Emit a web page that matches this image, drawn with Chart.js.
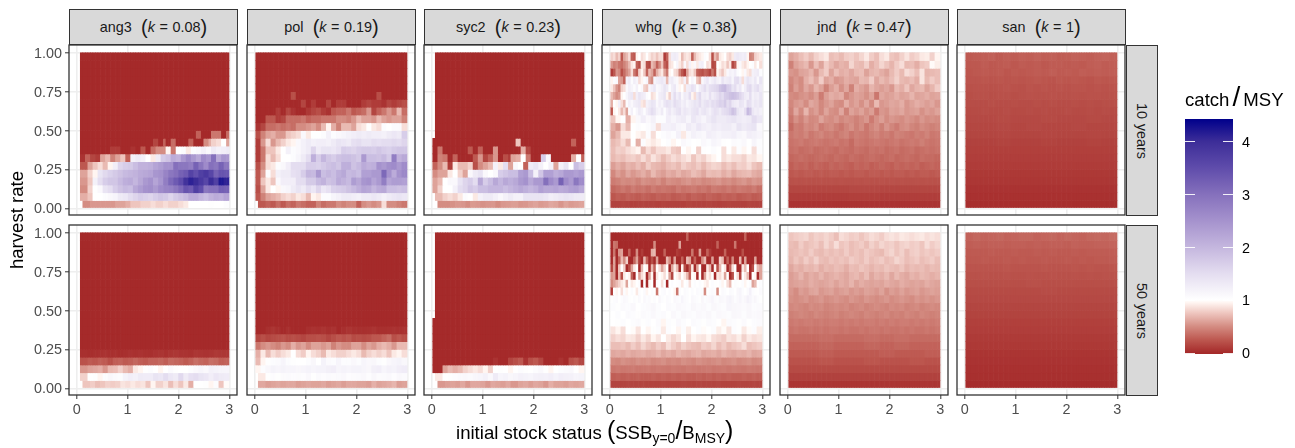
<!DOCTYPE html>
<html>
<head>
<meta charset="utf-8">
<script src="https://cdn.jsdelivr.net/npm/chart.js@4"></script>
<style>
  html, body { margin: 0; padding: 0; background: #fff; }
  body { width: 1295px; height: 448px; position: relative; overflow: hidden; font-family: "Liberation Sans", Arial, sans-serif; }
  canvas { position: absolute; }
  .strip { position: absolute; box-sizing: border-box; background: #d9d9d9; border: 1.3px solid #333; color: #1a1a1a; font-size: 14.4px; word-spacing: 0.6px; display: flex; align-items: center; justify-content: center; white-space: pre; }
  .strip .p { font-size: 20px; font-weight: normal; line-height: 14px; }
  .rot { transform: rotate(90deg); white-space: nowrap; }
  .title { position: absolute; font-size: 18.6px; color: #000; white-space: nowrap; }
  .title .p { font-size: 25px; line-height: 18px; }
  .title .s { font-size: 28px; line-height: 18px; margin: 0 3px; }
  .title sub { font-size: 14px; vertical-align: -4px; line-height: 0; }
</style>
</head>
<body>
<script>
// catch / MSY in percent, rows go top to bottom (harvest rate 1.00 down to 0.00)
// a leading _ is an empty cell, the rest of a row gets stretched over what is left of the 60 status columns
const _ = null;
const z = [_, 0];
const d = [0];

const ang3_10 = [z, z, z, z, z, z, z, z, z, z,
  [_,0,0,0,0,0,0,0,0,0,0,0,0,0,0,0,0,0,0,0,0,0,0,0,0,30,0,0,40,40,0,35],
  [_,0,0,0,0,0,0,0,0,0,0,0,0,0,0,0,0,15,0,30,0,35,0,0,0,30,0,0,50,65,80,85,100,60],
  [_,0,0,0,0,0,0,10,10,0,0,5,0,25,0,35,50,50,95,40,100,105,90,105,110,120,110,130,120,125,130],
  [_,5,30,15,10,60,70,45,60,75,30,120,130,120,100,90,130,175,185,215,205,240,265,240,220,260,245,300,220,245,240],
  [_,25,60,75,85,70,95,125,160,170,175,190,205,205,210,225,235,250,250,300,290,290,280,320,290,260,300,290,320,290],
  [_,60,80,95,140,155,165,175,185,195,200,205,215,220,225,245,250,270,290,300,320,330,365,345,370,380,360,320,340,335],
  [_,55,75,120,150,170,180,180,195,210,215,200,220,240,250,225,245,280,310,330,350,390,410,400,380,360,400,370,420,410],
  [_,50,80,102,110,140,150,170,185,195,190,220,235,250,255,240,260,270,275,290,310,340,330,370,350,290,300,300,325,320],
  [_,65,75,100,100,105,110,115,130,135,150,160,170,165,160,170,180,175,160,175,185,195,215,215,200,190,205,215,210,225],
  [_,_,50,55,55,55,55,55,60,60,65,75,75,80,80,85,80,85,80,80,85,90,100,100,100,100,102,100,100,105]
];

const ang3_50 = [z, z, z, z, z, z, z, z, z, z, z, z, z, z, z,
  [_,3,2,3,4,5,3,4,2,3,5,4,5,4,3,5,6,4,6,7,5,5,4,7,6,5,6,8,7,7],
  [_,22,26,24,28,26,20,28,30,26,28,32,28,26,30,30,32,28,34,32,30,26,30,36,32,30,36,34,28,30],
  [_,55,60,62,65,55,70,72,80,70,65,90,95,102,105,100,95,100,108,102,100,100,105,110,115,110,120,118,115,115],
  [_,80,100,102,95,105,112,108,105,118,125,120,130,128,128,140,135,150,135,130,155,130,145,150,140,135,125,135,130,128],
  [_,_,75,78,72,75,80,78,80,88,85,90,85,88,75,95,80,88,72,85,75,90,65,100,100,102,95,105,75,98]
];

const pol_10 = [d, d, d, d,
  [0,0,0,0,0,0,0,0,0,0,0,0,0,0,0,0,0,0,0,0,0,0,0,0,0,0,0,0,0,0],
  [0,0,0,0,0,0,0,20,0,0,0,0,0,0,0,0,0,0,0,0,0,0,0,0,20,0,0,0,0,0],
  [0,0,0,0,0,0,0,0,0,15,0,10,0,0,15,0,10,10,0,0,0,10,15,10,10,5,15,10,15,20],
  [0,0,0,0,10,0,15,5,0,0,8,15,20,10,5,25,30,30,40,25,30,35,55,15,30,40,55,40,70,35],
  [0,0,25,25,10,15,35,35,35,40,30,35,35,40,40,40,50,50,45,55,70,60,60,55,70,60,55,60,60,45],
  [5,15,35,35,40,35,40,35,50,50,55,60,50,70,95,65,45,70,70,60,85,90,100,90,85,105,100,108,108,85],
  [20,45,60,65,55,55,75,80,85,110,90,100,100,105,120,105,110,115,120,125,130,125,130,125,125,120,130,135,130,170],
  [10,55,85,55,70,80,90,95,110,120,130,120,125,125,120,130,140,135,130,145,150,140,140,150,145,150,150,155,150,160],
  [10,40,75,75,90,100,120,105,110,120,130,160,130,140,140,135,145,170,165,160,170,175,175,170,180,170,165,175,180,180],
  [10,40,85,70,85,100,100,105,115,130,150,210,170,200,180,170,185,190,190,185,175,240,190,190,185,195,175,280,205,220],
  [20,50,85,90,105,110,125,150,150,150,170,170,165,175,185,190,180,210,210,185,195,215,205,210,250,240,255,260,240,260],
  [25,60,105,85,120,130,130,145,150,170,200,195,240,190,200,190,210,220,195,200,190,230,230,240,240,310,250,215,250,265],
  [25,75,90,75,110,125,125,125,150,150,175,175,195,205,185,190,215,205,195,235,220,245,250,225,240,280,225,235,235,230],
  [20,60,90,100,95,110,115,130,140,130,150,135,160,135,145,165,170,175,185,195,210,225,220,200,215,220,190,190,185,190],
  [25,45,60,65,70,80,85,80,90,85,70,95,90,105,105,115,120,130,130,125,120,130,130,135,130,120,130,135,140,135],
  [_,25,30,25,35,25,35,30,40,35,30,30,45,35,40,40,50,45,50,50,30,50,55,50,55,85,50,50,45,40]
];

const pol_50 = [d, d, d, d, d, d, d, d, d, d, d, d,
  [0,0,3,6,3,0,3,0,0,0,3,5,4,6,3,5,0,3,6,4,3,3,4,6,3,3,4,5,4,5],
  [15,20,15,18,20,22,18,20,18,15,20,20,22,20,15,20,25,22,25,18,20,18,20,25,25,30,35,20,25,20],
  [40,50,55,50,45,55,50,65,55,60,50,60,60,55,60,45,55,50,50,60,60,50,60,55,65,70,65,55,70,70],
  [65,90,70,85,78,85,90,100,85,78,95,85,80,70,90,85,80,80,85,90,85,70,80,85,80,85,75,90,95,85],
  [70,95,102,105,108,115,105,102,100,100,105,112,100,118,108,105,115,105,105,110,105,115,110,112,105,102,110,115,118,112],
  [95,105,112,118,115,118,115,115,112,115,118,115,118,118,122,125,115,118,115,118,118,115,112,122,125,115,120,118,125,128],
  [_,90,102,104,102,106,108,104,106,104,110,102,108,104,108,106,108,110,104,106,108,110,104,112,106,108,110,104,110,108],
  [_,62,58,60,62,60,62,62,58,60,62,60,60,62,58,60,62,58,62,62,60,60,58,66,60,62,64,68,58,60]
];

const syc2_10 = [z, z, z, z, z, z, z, z, z, z, z,
  [0,0,0,0,0,0,0,0,0,0,0,0,0,0,0,0,0,75,0,0,0,0,0,0,0,0,0,0,30,0,0],
  [0,40,0,0,0,0,0,25,0,30,0,0,55,0,0,0,0,0,65,15,0,0,0,0,0,0,0,0,0,0,0],
  [0,45,40,0,30,0,0,0,25,55,15,30,55,0,20,10,60,65,100,40,0,0,170,110,0,0,0,0,65,100,30],
  [30,50,70,10,90,70,70,80,20,50,60,70,120,90,150,60,110,100,30,130,140,120,100,120,60,120,140,100,190,170],
  [50,60,60,90,100,80,60,110,130,140,110,100,110,170,180,190,190,230,240,190,120,180,230,230,210,220,240,240,230,240],
  [60,70,100,110,110,140,160,170,150,220,170,190,220,200,220,210,220,240,250,220,240,240,300,260,240,320,260,240,290,260],
  [60,80,100,100,120,150,160,180,170,190,190,200,200,200,190,200,210,220,210,200,210,230,220,220,225,215,220,230,235,220],
  [_,70,80,85,80,90,105,100,90,120,130,130,120,110,120,130,120,120,140,140,140,140,135,125,130,135,140,135,130,130],
  [_,_,50,50,52,55,54,50,56,55,52,54,55,50,55,56,58,54,55,58,60,56,58,62,60,54,60,56,58,60]
];

const syc2_50 = [z, z, z, z, z, z, z, z, z, z, z,
  d, d, d, d, d,
  [0,0,0,0,0,0,0,0,0,0,0,0,5,0,0,15,20,25,5,20,25,15,0,0,0,5,0,20,25,15],
  [0,0,60,70,65,70,80,85,90,85,95,80,100,102,100,95,100,105,102,100,105,110,102,95,100,105,108,110,100,95],
  [_,90,100,102,104,108,110,108,112,115,120,110,130,115,118,112,115,120,118,115,120,122,120,125,118,125,122,120,115,118],
  [_,_,55,58,60,58,62,55,62,62,60,55,62,60,58,62,55,60,62,58,62,60,55,65,60,60,58,62,60,62]
];

const whg_10 = [
  [80,85,70,80,25,60,70,85,30,25,95,100,85,90,100,90,80,85,75,85,85,10,30,85,125,130,125,95,70,85,90,85,30,70,85,90,95,105,100,85,20,70,55,90,95,100,85,80,90,130,135,130,125,130,95,45,50,80,85,90],
  [55,45,50,40,35,45,55,70,90,95,30,20,90,85,20,15,70,60,30,50,75,30,20,85,90,100,115,90,80,110,85,120,95,110,90,120,125,100,85,90,15,20,100,95,85,90,75,90,15,30,95,110,90,85,95,100,105,90,100,85],
  [10,25,55,50,20,35,50,60,85,40,25,80,95,75,30,70,60,30,65,80,90,60,40,95,100,85,80,45,25,10,60,85,90,75,30,25,20,30,25,15,40,20,95,85,75,90,110,120,115,125,105,100,95,110,90,85,120,125,130,105],
  [95,105,110,60,55,30,120,130,105,125,115,85,95,105,115,60,50,115,125,130,135,125,70,125,130,115,110,90,85,120,75,100,115,105,75,65,110,125,135,115,125,135,120,115,140,125,130,135,115,145,150,130,85,125,140,130,120,135,110,140],
  [90,75,55,45,80,85,110,125,115,105,120,100,110,80,75,115,125,135,110,115,125,140,130,105,125,135,110,95,100,85,125,130,145,135,105,125,135,150,130,145,150,155,160,180,190,195,170,165,140,150,125,135,110,125,150,155,130,140,150,130],
  [70,60,50,55,95,100,115,130,135,85,125,140,130,125,105,100,85,90,105,125,130,140,95,80,125,150,125,140,110,130,125,150,95,85,135,155,125,130,120,145,125,135,145,160,150,170,175,185,190,185,175,160,145,130,125,150,120,130,125,140],
  [65,100,95,125,85,70,105,120,110,125,130,135,90,85,120,130,140,135,110,125,115,135,145,140,130,150,140,135,120,130,115,125,130,140,135,150,130,140,145,135,150,145,155,165,160,175,150,160,135,130,125,140,135,120,150,145,125,135,130,140],
  [25,95,100,90,70,85,60,105,120,100,115,130,120,105,125,135,150,140,120,115,130,105,125,135,120,130,140,145,125,135,130,125,135,140,145,125,135,140,130,120,135,145,140,130,145,150,155,165,185,175,140,130,125,145,195,180,135,125,130,120],
  [75,95,100,65,95,110,125,110,120,105,105,125,115,125,130,115,135,125,115,130,140,130,130,135,140,130,125,130,150,135],
  [65,55,85,70,100,105,100,105,115,85,120,120,125,115,110,130,120,135,125,120,130,125,130,130,120,140,130,135,140,110],
  [60,70,90,90,100,95,90,105,85,100,105,110,105,120,90,110,120,115,110,125,120,115,120,120,125,115,110,125,120,115],
  [70,75,85,70,100,65,105,95,90,95,100,105,95,100,110,105,100,102,110,105,115,110,102,100,108,105,110,100,115,105],
  [72,80,78,85,90,95,70,85,75,85,85,90,78,75,100,95,100,80,102,100,105,100,85,100,90,105,95,100,85,105],
  [70,75,72,78,80,75,85,75,88,80,70,78,85,80,85,90,75,85,80,90,95,100,85,90,85,85,80,90,88,95],
  [58,65,60,68,65,72,65,78,70,68,65,72,75,70,80,75,72,78,70,78,82,80,72,78,72,80,78,85,75,70],
  [48,58,52,62,55,60,65,58,70,62,58,65,62,68,62,65,72,68,62,72,70,72,65,70,62,68,70,72,65,62],
  [42,45,50,48,50,45,52,50,48,52,45,52,50,48,52,55,50,52,48,50,52,55,50,52,48,52,55,50,55,52],
  [32,36,40,36,42,38,40,36,42,38,40,38,36,42,38,40,42,38,40,36,42,40,38,42,38,42,40,38,42,36],
  [24,28,26,30,28,26,30,28,26,30,28,30,26,28,30,26,30,28,26,30,28,26,30,28,30,26,28,30,26,28],
  [13,13,14,13,12,13,14,13,13,12,14,13,13,13,12,14,13,13,13,14,13,12,13,14,13,13,12,14,13,13]
];

const whg_50 = [
  [0,0,0,0,0,0,0,0,0,0,0,0,0,0,0,0,0,0,0,0,0,0,0,0,0,0,0,0,0,0,30,0,0,0,0,0,0,0,0,0,0,0,0,0,0,0,0,0,0,0,0,0,0,30,0,0,0,0,0,0],
  [0,40,35,0,0,0,0,0,0,0,0,0,0,0,0,0,0,50,0,0,0,0,0,0,0,0,0,60,0,0,0,0,0,0,0,0,0,0,0,0,0,0,30,0,0,0,0,0,0,40,0,0,0,0,0,0,0,0,0,0],
  [0,40,0,55,60,0,0,30,0,0,50,0,10,0,0,0,65,70,0,0,0,30,0,0,0,0,10,5,0,0,0,0,40,0,0,60,0,0,30,10,0,0,0,0,0,30,0,0,0,0,0,0,20,0,0,0,0,0,0,0],
  [0,60,0,30,70,50,80,0,0,30,60,10,0,70,30,0,20,0,60,0,0,0,70,50,0,60,0,0,30,0,70,60,0,30,0,0,50,70,0,0,60,0,0,80,70,0,30,0,50,0,0,70,0,60,0,0,0,60,0,0],
  [15,60,0,75,100,80,0,20,60,90,100,0,70,100,95,0,70,30,100,85,60,80,100,0,60,90,70,0,95,20,0,30,90,0,60,100,0,0,90,70,0,95,20,70,100,90,0,30,85,100,0,0,90,70,100,0,20,100,70,60],
  [55,60,0,70,20,90,100,95,30,0,100,60,85,95,0,60,95,0,90,100,95,85,100,60,15,100,95,85,100,90,70,30,100,95,0,100,0,60,95,85,100,0,90,85,95,60,100,0,20,100,85,15,100,90,70,0,100,95,0,60],
  [50,60,70,80,90,95,60,100,90,95,100,105,0,100,0,95,100,0,105,100,85,100,0,100,105,100,102,105,90,100,105,85,100,105,100,105,100,95,90,100,105,102,100,105,95,100,85,70,100,105,102,100,105,95,100,105,60,70,100,105],
  [10,100,95,100,85,105,95,100,105,100,90,105,100,108,95,100,105,100,40,100,105,108,100,105,100,95,40,105,100,108,105,100,105,100,108,105,105,50,100,105,108,105,50,100,108,105,100,108,105,100,112,115,105,100,108,120,105,102,100,108],
  [102,105,108,100,105,110,108,102,100,105,102,108,100,110,105,108,102,105,100,112,105,102,108,105,100,110,108,105,115,108,105,100,110,108,105,102,112,105,108,110,115,108,105,112,110,108,115,118,112,105,110,115,108,112,120,115,108,112,105,102],
  [105,102,108,105,110,100,105,108,112,105,100,108,105,110,108,105,112,108,110,105,112,108,105,115,112,110,108,112,105,108],
  [100,105,100,108,105,102,108,105,110,105,108,102,110,105,112,108,105,110,108,112,105,110,108,105,112,110,105,112,108,110],
  [100,102,105,100,105,108,102,105,100,108,95,105,102,110,105,100,108,105,102,108,105,100,95,108,105,102,108,100,105,108],
  [88,95,85,100,98,88,100,95,102,105,90,105,100,95,105,92,100,105,98,100,105,92,98,88,105,102,90,98,105,92],
  [80,85,82,90,88,80,90,82,95,88,100,90,82,88,100,85,95,90,88,95,85,82,78,88,85,92,80,90,85,88],
  [72,72,75,70,78,72,82,75,70,78,72,85,78,72,80,75,72,70,78,75,82,72,78,70,75,78,85,72,75,78],
  [62,64,62,66,62,64,66,62,64,68,62,66,62,68,64,62,66,68,62,64,66,62,68,64,62,66,64,68,62,64],
  [50,48,52,50,48,52,50,52,48,50,52,48,50,48,52,50,48,52,50,48,50,52,48,50,52,48,50,52,48,50],
  [40,42,40,41,42,40,41,42,40,42,41,40,42,41,40,42,41,40,41,42,40,41,42,40,42,41,40,42,41,40],
  [28,30,28,30,28,30,28,28,30,28,30,28,30,28,30,28,28,30,28,30,28,30,28,30,28,28,30,28,30,28],
  [14,14,14,15,14,14,15,14,14,14,15,14,14,14,15,14,14,15,14,14,14,15,14,14,14,15,14,14,15,14]
];

const jnd_10 = [
  [60,65,72,78,70,80,85,90,72,75,70,78,80,75,82,90,78,72,85,90,75,72,80,88,78,82,90,92,80,95],
  [45,60,65,70,55,72,60,78,70,62,68,65,82,72,70,80,65,72,82,75,68,78,85,70,72,65,75,78,98,92],
  [55,52,60,62,68,55,70,78,60,72,65,68,62,70,72,60,68,70,65,60,70,78,70,85,80,72,88,68,70,72],
  [48,55,50,65,72,62,78,60,65,55,58,65,62,60,70,68,78,62,70,65,72,80,70,68,72,65,88,70,78,72],
  [45,58,50,62,55,68,60,45,58,65,52,62,45,65,60,55,68,62,58,62,55,70,65,75,62,68,70,60,68,78],
  [50,48,52,55,50,58,42,58,65,62,65,48,55,60,58,52,60,40,62,58,60,65,60,62,68,60,62,65,60,62],
  [48,55,58,50,62,58,48,55,60,52,50,65,55,60,52,62,50,70,55,58,62,60,65,55,60,65,62,58,62,55],
  [45,62,50,68,52,58,48,60,52,50,62,45,60,55,60,52,58,42,55,52,60,58,62,55,58,60,52,58,55,60],
  [40,52,45,55,48,50,60,52,50,55,48,52,50,45,50,55,42,52,58,50,55,52,50,55,52,48,55,50,52,50],
  [34,44,42,50,47,52,42,47,50,44,40,47,52,44,50,40,47,52,44,54,47,42,50,52,47,44,50,47,44,47],
  [40,44,42,47,40,44,47,42,44,40,44,47,40,44,42,40,44,47,42,44,40,46,44,42,40,44,42,46,40,42],
  [38,40,42,38,40,42,40,38,40,42,38,40,34,42,40,38,40,42,40,38,40,42,38,40,42,40,44,40,38,40],
  [36,38,34,36,38,34,36,38,36,34,38,36,34,38,36,34,38,36,38,34,36,38,34,36,38,34,36,38,36,38],
  [32,34,36,34,32,34,36,34,32,36,34,32,36,34,32,34,36,34,32,34,36,32,34,36,34,32,36,34,34,32],
  [28,32,30,32,28,32,30,28,32,30,32,30,28,32,30,32,28,30,32,30,28,32,30,32,30,32,28,30,32,30],
  [25,27,25,27,27,25,27,25,27,27,25,27,25,27,27,25,27,27,25,27,25,27,27,25,27,25,27,27,25,27],
  [21,22,21,22,21,21,22,21,22,21,22,21,21,22,21,22,21,21,22,21,22,21,22,21,21,22,21,22,21,21],
  [16,16,17,16,16],
  [11,11,12,11,11],
  [5,5,5,5,5]
];

const jnd_50 = [
  [75,78,80,82,75,80,78,82,78,72,85,82,78,80,75,80,85,82,78,85,88,85,90,88,85,88,90,85,88,85],
  [72,70,78,72,75,78,72,82,75,85,75,78,72,75,78,72,80,75,82,78,80,75,80,82,78,80,75,85,78,82],
  [70,72,75,72,78,72,70,75,72,75,72,78,72,75,72,78,75,72,70,78,82,75,80,72,78,80,75,78,75,78],
  [68,75,70,78,72,80,72,70,75,72,75,72,78,75,72,78,72,75,78,72,75,82,78,72,75,78,72,75,78,72],
  [62,68,65,70,68,72,65,70,68,72,70,65,72,70,75,72,68,72,70,75,72,70,75,68,72,70,72,68,72,70],
  [58,62,68,60,65,62,68,62,65,68,65,62,68,70,65,72,62,68,65,70,62,70,65,62,68,65,70,68,65,68],
  [58,60,62,60,65,62,60,62,65,60,65,62,68,60,65,62,60,62,60,65,62,60,65,62,60,62,60,65,62,60],
  [55,50,58,55,60,62,55,58,60,55,58,60,55,58,55,60,58,55,60,52,58,55,60,55,58,60,55,58,60,58],
  [52,50,52,55,50,52,55,50,52,55,52,50,55,52,50,55,52,50,52,55,50,52,55,52,50,55,52,55,52,55],
  [48,50,48,46,50,48,50,46,48,50,48,50,46,48,50,46,48,50,48,46,50,48,50,46,48,50,46,48,50,48],
  [44,46,48,46,44,48,46,44,46,48,44,46,48,46,44,48,46,44,46,48,44,46,44,48,46,44,48,46,44,46],
  [41,43,41,43,43,41,43,41,43,43,41,43,41,43,41,43,43,41,43,41,43,41,43,43,41,43,41,43,41,43],
  [38,40,38,38,40,38,40,38,40,40,38,40,38,38,40,38,40,40,38,40,38,38,40,38,40,38,38,40,38,40],
  [34,34,36,34,34,36,34,36,34,34],
  [30,30,32,30,30,32,30,32,30,30],
  [26,26,28,26,26,26,28,26,26,28],
  [22,22,24,22,22,24,22,22,24,22],
  [18,18,18,18,18],
  [13,13,13,13,13],
  [6,6,6,6,6]
];

const san_10 = [
  [26,27,28,29,26,28,27,29,28,30,28,29,27,28,30,29,28,30,31,29],
  [25,25,27,25,26,27,25,27,26,27,25,27,27,26,27,26,28,29,27,28],
  [24,25,26,25,26,24,26,25,26,27,26,28,26,27,26,28,27,28,27,28],
  [23,23,24,23,24,23,24,23,24,25,24,23,25,24,25,24,23,25,24,25],
  [21,22,22,21,22,23,22,21,23,22,23,22,23,22,23,23,22,23,22,23],
  [20,21,21,20,21,21,20,21,22,21,21,22,21,21,22,21,22,22,21,22],
  [19,19,19,20,19,19,20,19,19,20,19,20,19,19,20,19,20,19,20,20],
  [18,18,19,18,18,19,18,18,19,18,19,18,18,19,18,18,19,18,19,18],
  [17,17,18,17,17,18,17,17,18,17],
  [16,16,17,16,17,16,16,17,16,16],
  [15,15,16,15,15,16,15,15,16,15],
  [13,13,14,13,13,14,13,13,14,13],
  [12,12,12,12,12],
  [11,11,11,11,11],
  [10,10,10,10,10],
  [8,8,8,8,8],
  [7,7,7,7,7],
  [5,5,5,5,5],
  [4,4,4,4,4],
  [2,2,2,2,2]
];

const san_50 = [
  [30,32,30,31,32,30,31,32,32,30,31,32,30,32,31,30,32,33,32,34],
  [28,29,28,29,29,28,29,29,28,29,28,29,29,28,30,29,29,30,30,31],
  [26,26,26,27,26,26,27,26,26,27,26,27,26,26,27,26,27,27,27,28],
  [25,25,26,25,25,26,25,26,25,25,26,25,25,26,25,26,25,26,26,27],
  [23,23,23,23,23,24,23,23,23,23,24,23,23,23,24,23,24,23,23,24],
  [21,21,22,21,21,22,21,21,22,21,21,22,21,21,22,21,22,21,22,22],
  [20,20,20,20,21,20,20,20,20,20],
  [18,18,18,18,18,19,18,18,18,18],
  [17,17,17,17,17],
  [15,15,15,15,15],
  [14,14,14,14,14],
  [12,12,12,12,12],
  [11,11,11,11,11],
  [9,9,9,9,9],
  [8,8,8,8,8],
  [6,6,6,6,6],
  [5,5,5,5,5],
  [4,4,4,4,4],
  [3,3,3,3,3],
  [1,1,1,1,1]
];

const stocks = ['ang3', 'pol', 'syc2', 'whg', 'jnd', 'san'];
const kValues = ['0.08', '0.19', '0.23', '0.38', '0.47', '1'];
const horizons = ['10 years', '50 years'];
const panelData = [
  [ang3_10, pol_10, syc2_10, whg_10, jnd_10, san_10],
  [ang3_50, pol_50, syc2_50, whg_50, jnd_50, san_50]
];
const xTicks = [0, 1, 2, 3];
const yTicks = [0, 0.25, 0.5, 0.75, 1];
const legendTicks = [0, 1, 2, 3, 4];

// colour ramp: [catch/MSY, r, g, b]
const ramp = [
  [0, 165, 42, 42], [0.25, 189, 88, 80], [0.5, 212, 140, 130], [0.75, 238, 197, 190],
  [0.95, 255, 245, 241], [1, 255, 255, 255], [1.5, 228, 221, 240], [2, 196, 182, 222],
  [2.5, 165, 146, 205], [3, 133, 112, 188], [3.5, 95, 76, 171], [4, 60, 45, 152], [4.42, 0, 0, 139]
];
function colour(v) {
  for (let i = 1; i < ramp.length; i++) {
    if (v <= ramp[i][0]) {
      const a = ramp[i - 1], b = ramp[i], t = (v - a[0]) / (b[0] - a[0]);
      return `rgb(${[1, 2, 3].map(k => Math.round(a[k] + (b[k] - a[k]) * t)).join(',')})`;
    }
  }
  return 'rgb(0,0,139)';
}

const COLS = 60, CELL = 0.0495, X0 = 0.047;
const panelLeft = [69, 247, 424, 602, 780, 957];
const panelTop = [45, 225];
const panelW = 168, panelH = [170, 170];
const M = { l: 46, r: 4, t: 2, b: 26 };

function expandRow(row) {
  let skip = 0;
  while (row[skip] === null) skip++;
  const vals = row.slice(skip), rest = COLS - skip, out = [];
  for (let j = 0; j < rest; j++) out.push({ col: skip + j, v: vals[Math.floor(j * vals.length / rest)] });
  return out;
}

function rowsToDatasets(rows) {
  return rows.map((row, r) => {
    const hi = 1 - r * 0.05, lo = hi - 0.05;
    const cells = expandRow(row);
    return {
      data: cells.map(c => ({ x: X0 + CELL * c.col, y: [lo, hi] })),
      backgroundColor: cells.map(c => colour(c.v / 100)),
      borderWidth: 0
    };
  });
}

const panelFrame = {
  id: 'panelFrame',
  afterDatasetsDraw(chart) {
    const { ctx, chartArea: a } = chart;
    ctx.save();
    ctx.strokeStyle = '#333';
    ctx.lineWidth = 1.3;
    ctx.strokeRect(a.left, a.top, a.width, a.height);
    ctx.restore();
  }
};

function addCanvas(left, top, w, h) {
  const c = document.createElement('canvas');
  c.width = w; c.height = h;
  c.style.cssText = `left:${left}px;top:${top}px;width:${w}px;height:${h}px`;
  document.body.appendChild(c);
  return c;
}

// the tick labels ask for room past the plot area, panels have to stay the same size
function noOverhang(s) {
  s.paddingTop = 0; s.paddingBottom = 0; s.paddingLeft = 0; s.paddingRight = 0;
}

function drawPanel(row, col) {
  const showX = row === 1, showY = col === 0;
  const w = M.l + panelW + M.r, h = M.t + panelH[row] + M.b;
  const canvas = addCanvas(panelLeft[col] - M.l, panelTop[row] - M.t, w, h);
  new Chart(canvas, {
    type: 'bar',
    data: { datasets: rowsToDatasets(panelData[row][col]) },
    plugins: [panelFrame],
    options: {
      responsive: false,
      animation: false,
      events: [],
      datasets: { bar: { grouped: false, categoryPercentage: 1, barPercentage: 1 } },
      layout: { padding: { top: M.t, right: M.r, left: 0, bottom: 0 } },
      plugins: { legend: { display: false }, tooltip: { enabled: false } },
      scales: {
        x: {
          type: 'linear', min: -0.15, max: 3.15, offset: false,
          afterFit: s => { s.height = M.b; noOverhang(s); },
          afterBuildTicks: s => { s.ticks = xTicks.map(v => ({ value: v })); },
          border: { display: false },
          grid: { offset: false, color: '#eeeeee', lineWidth: 1.6, tickColor: '#333', tickWidth: 1, tickLength: 4, drawTicks: showX },
          ticks: { display: showX, color: '#4d4d4d', font: { size: 14.4, family: 'Liberation Sans' }, padding: 2, maxRotation: 0, callback: v => v }
        },
        y: {
          min: -0.043, max: 1.05,
          afterFit: s => { s.width = M.l; noOverhang(s); },
          afterBuildTicks: s => { s.ticks = yTicks.map(v => ({ value: v })); },
          border: { display: false },
          grid: { color: '#eeeeee', lineWidth: 1.6, tickColor: '#333', tickWidth: 1, tickLength: 4, drawTicks: showY },
          ticks: { display: showY, color: '#4d4d4d', font: { size: 14.4, family: 'Liberation Sans' }, padding: 3, labelOffset: 1, callback: v => v.toFixed(2) }
        }
      }
    }
  });
}

function drawLegend() {
  const canvas = addCanvas(1185, 110, 50 + 30, 255);
  const legendTickMarks = {
    id: 'legendTickMarks',
    afterDatasetsDraw(chart) {
      const { ctx, chartArea: a, scales: { y } } = chart;
      ctx.save();
      ctx.strokeStyle = 'rgba(255,255,255,0.9)';
      ctx.lineWidth = 1;
      legendTicks.forEach(v => {
        const py = Math.round(y.getPixelForValue(v)) + 0.5;
        ctx.beginPath();
        ctx.moveTo(a.left, py); ctx.lineTo(a.left + 10, py);
        ctx.moveTo(a.right - 10, py); ctx.lineTo(a.right, py);
        ctx.stroke();
      });
      ctx.restore();
    }
  };
  new Chart(canvas, {
    type: 'bar',
    data: {
      labels: [''],
      datasets: [{
        data: [[-0.02, 4.42]],
        borderWidth: 0,
        categoryPercentage: 1,
        barPercentage: 1,
        backgroundColor(ctx) {
          const a = ctx.chart.chartArea;
          if (!a) return '#fff';
          const y = ctx.chart.scales.y;
          const g = ctx.chart.ctx.createLinearGradient(0, y.getPixelForValue(-0.02), 0, y.getPixelForValue(4.42));
          ramp.forEach(s => g.addColorStop((s[0] + 0.02) / 4.44, `rgb(${s[1]},${s[2]},${s[3]})`));
          return g;
        }
      }]
    },
    plugins: [legendTickMarks],
    options: {
      responsive: false,
      animation: false,
      events: [],
      layout: { padding: { top: 9, bottom: 11, left: 0, right: 0 } },
      plugins: { legend: { display: false }, tooltip: { enabled: false } },
      scales: {
        x: { display: false },
        y: {
          position: 'right', min: -0.02, max: 4.42,
          afterFit: s => { s.width = 32; noOverhang(s); },
          afterBuildTicks: s => { s.ticks = legendTicks.map(v => ({ value: v })); },
          border: { display: false },
          grid: { display: false, drawTicks: false },
          ticks: { color: '#000', font: { size: 14.4, family: 'Liberation Sans' }, padding: 9, labelOffset: 1.5, callback: v => v }
        }
      }
    }
  });
}

function addHtml(cls, css, html) {
  const el = document.createElement('div');
  el.className = cls;
  el.style.cssText = css;
  el.innerHTML = html;
  document.body.appendChild(el);
  return el;
}

stocks.forEach((name, i) => {
  addHtml('strip', `left:${panelLeft[i]}px;top:9px;width:${panelW + 1}px;height:36px`,
    `${name}  <span class="p">(</span><i>k</i> = ${kValues[i]}<span class="p">)</span>`);
});
horizons.forEach((h, r) => {
  addHtml('strip', `left:1126px;top:${panelTop[r]}px;width:32px;height:${panelH[r] + 1}px`, `<span class="rot">${h}</span>`);
});
panelData.forEach((rows, r) => rows.forEach((data, c) => drawPanel(r, c)));
drawLegend();

addHtml('title', 'left:6px;top:220px;transform:translate(0,-50%) rotate(-90deg);transform-origin:center;width:22px;display:flex;justify-content:center', 'harvest rate');
addHtml('title', 'left:456px;top:421px', 'initial stock status <span class="p">(</span>SSB<sub>y=0</sub><span class="p">/</span>B<sub>MSY</sub><span class="p">)</span>');
addHtml('title', 'left:1185px;top:88px', 'catch<span class="s">/</span>MSY');
</script>
</body>
</html>
